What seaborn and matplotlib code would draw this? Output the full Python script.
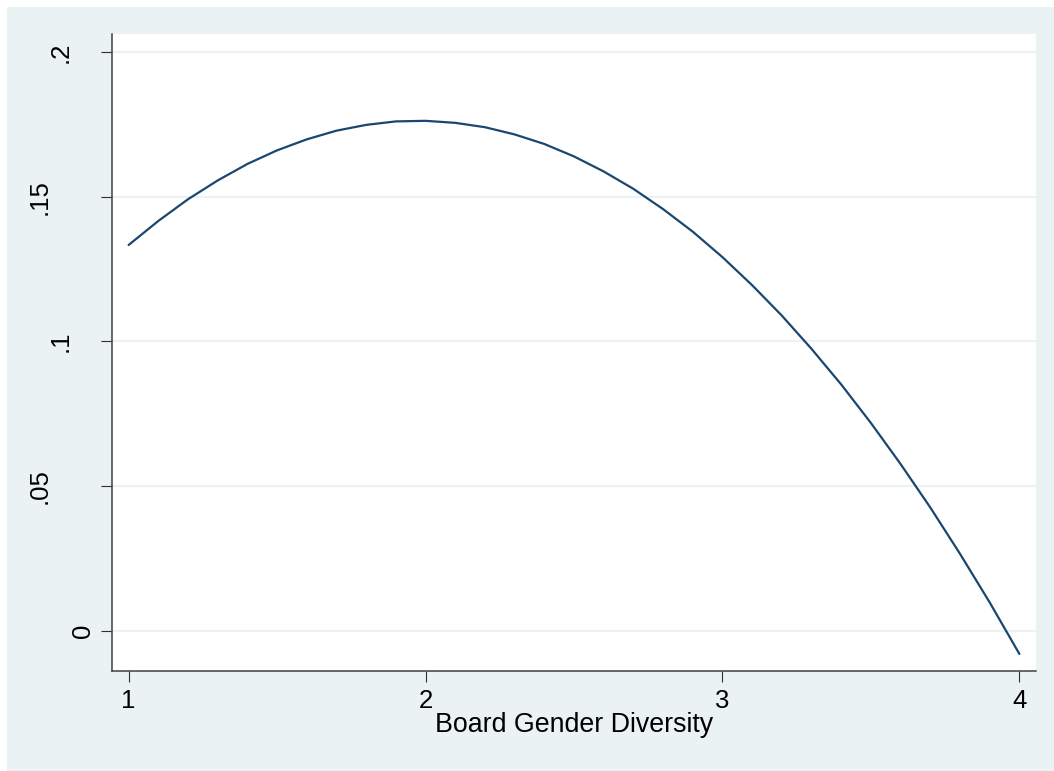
import matplotlib
matplotlib.use("Agg")
import matplotlib.pyplot as plt
import seaborn as sns
import pandas as pd
from matplotlib.patches import Rectangle

# valores
diversity = [1.0, 1.1, 1.2, 1.3, 1.4, 1.5, 1.6, 1.7, 1.8, 1.9, 2.0,
             2.1, 2.2, 2.3, 2.4, 2.5, 2.6, 2.7, 2.8, 2.9, 3.0,
             3.1, 3.2, 3.3, 3.4, 3.5, 3.6, 3.7, 3.8, 3.9, 4.0]
effect = [0.1333, 0.1416, 0.1491, 0.1556, 0.1613, 0.1660, 0.1698, 0.1728, 0.1748, 0.1760, 0.1762,
          0.1755, 0.1740, 0.1715, 0.1682, 0.1639, 0.1587, 0.1527, 0.1457, 0.1379, 0.1291,
          0.1194, 0.1089, 0.0974, 0.0851, 0.0718, 0.0576, 0.0426, 0.0266, 0.0098, -0.0080]
x_ticks = [1, 2, 3, 4]
y_ticks = [0, 0.05, 0.1, 0.15, 0.2]
y_tick_labels = ['0', '.05', '.1', '.15', '.2']
x_label = 'Board Gender Diversity'

df = pd.DataFrame({'x': diversity, 'y': effect})

sns.set_style('white')
plt.rcParams['font.family'] = ['Liberation Sans', 'DejaVu Sans']

bg = '#EAF2F3'
fig = plt.figure(figsize=(10.54, 7.71), dpi=100, facecolor='white')
fig.patches.append(Rectangle((7 / 1054, 0), 1 - 7 / 1054, 1 - 7 / 771, transform=fig.transFigure,
                             facecolor=bg, edgecolor='none', zorder=-10))
ax = fig.add_axes([112 / 1054, 100 / 771, 924 / 1054, 637 / 771])
ax.set_zorder(5)
ax.set_facecolor('white')

# linhas de grade
for v in y_ticks:
    ax.axhline(v, color=bg, linewidth=1.5, zorder=1)

sns.lineplot(data=df, x='x', y='y', ax=ax, color='#1A476F', linewidth=1.6, zorder=3)

ax.set_xlim(0.944, 4.056)
ax.set_ylim(-0.0139, 0.2062)

for s in ['top', 'right']:
    ax.spines[s].set_visible(False)
for s in ['left', 'bottom']:
    ax.spines[s].set_color('#404040')
    ax.spines[s].set_linewidth(1.1)

ax.set_xticks(x_ticks)
ax.set_xticklabels([str(t) for t in x_ticks])
ax.set_yticks(y_ticks)
ax.tick_params(axis='both', direction='out', length=8, width=0.8, color='#303030',
               labelsize=18.5, labelcolor='black', pad=5)
ax.tick_params(axis='y', labelleft=False)
ax.tick_params(left=True, bottom=True)

# rotulos do eixo y (posicao como no Stata)
label_px = {'0': 90, '.05': 47, '.1': 68, '.15': 47, '.2': 68}
for v, lab in zip(y_ticks, y_tick_labels):
    ax.text((label_px[lab] - 112) / 924, v, lab, transform=ax.get_yaxis_transform(),
            rotation=90, rotation_mode='anchor', ha='center', va='baseline',
            fontsize=18.5, color='black', clip_on=False)

ax.set_xlabel(x_label, fontsize=19.3, color='black')
ax.xaxis.set_label_coords(0.5, -0.064)
ax.set_ylabel('')

fig.savefig('out.png', dpi=100, facecolor=fig.get_facecolor())
